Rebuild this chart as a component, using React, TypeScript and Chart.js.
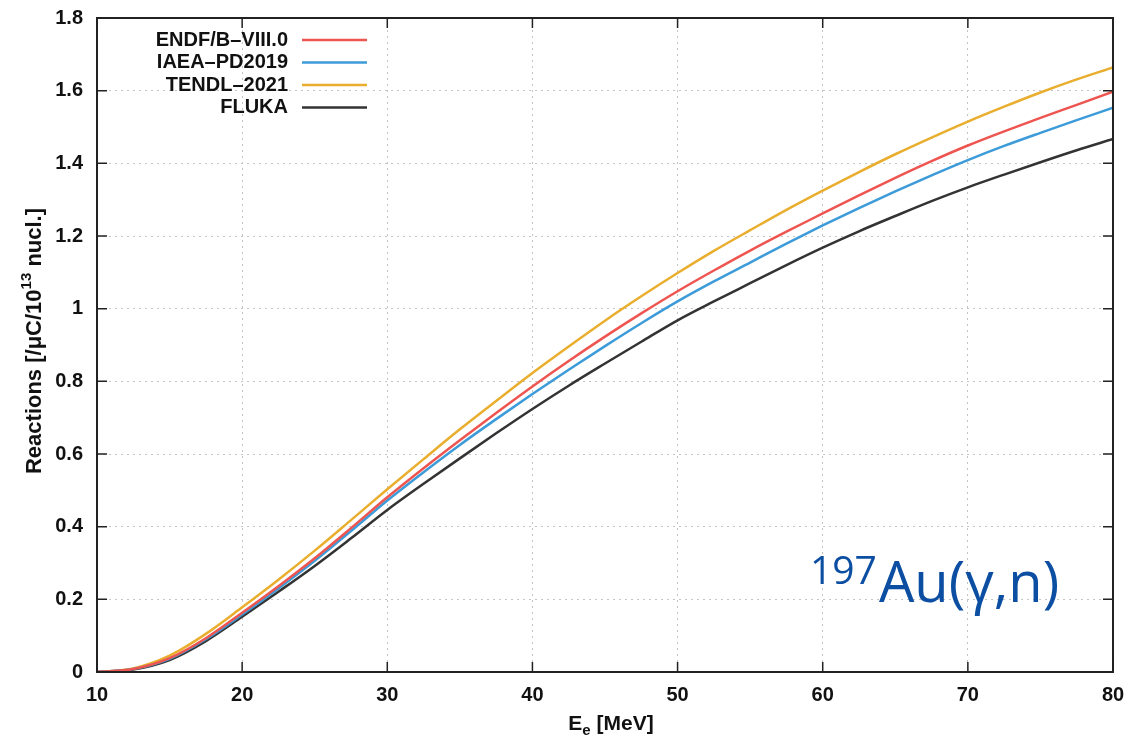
import React, { useEffect, useRef } from "react";
import { Chart, registerables } from "chart.js";

Chart.register(...registerables);

const energies = [10, 12.5, 15, 17.5, 20, 22.5, 25, 27.5, 30, 32.5, 35, 37.5, 40, 42.5, 45, 47.5, 50, 52.5, 55, 57.5, 60, 62.5, 65, 67.5, 70, 72.5, 75, 77.5, 80];
const endf = [0, 0.008, 0.038, 0.093, 0.163, 0.236, 0.313, 0.396, 0.481, 0.561, 0.638, 0.713, 0.786, 0.856, 0.923, 0.987, 1.048, 1.105, 1.160, 1.212, 1.262, 1.312, 1.360, 1.406, 1.449, 1.488, 1.525, 1.561, 1.597];
const iaea = [0, 0.008, 0.036, 0.090, 0.158, 0.230, 0.306, 0.388, 0.472, 0.550, 0.625, 0.696, 0.765, 0.832, 0.897, 0.960, 1.020, 1.075, 1.127, 1.179, 1.229, 1.277, 1.323, 1.367, 1.409, 1.448, 1.484, 1.519, 1.553];
const tendl = [0, 0.010, 0.045, 0.105, 0.178, 0.254, 0.334, 0.418, 0.503, 0.586, 0.668, 0.746, 0.823, 0.896, 0.967, 1.034, 1.098, 1.159, 1.216, 1.272, 1.325, 1.376, 1.425, 1.471, 1.515, 1.556, 1.595, 1.631, 1.664];
const fluka = [0, 0.007, 0.033, 0.085, 0.152, 0.221, 0.292, 0.368, 0.446, 0.518, 0.588, 0.657, 0.724, 0.788, 0.849, 0.909, 0.968, 1.020, 1.070, 1.120, 1.168, 1.213, 1.255, 1.296, 1.334, 1.369, 1.403, 1.436, 1.467];

const seriesLabels = ["ENDF/B-VIII.0", "IAEA-PD2019", "TENDL-2021", "FLUKA"];
const seriesColors = ["#EE5550", "#3C9BD8", "#E9AE2E", "#333333"];
const seriesValues = [endf, iaea, tendl, fluka];

const FONT = "'Liberation Sans', Arial, sans-serif";

const decorPlugin = {
  id: "decor",
  afterDatasetsDraw(chart: any) {
    const { ctx, chartArea: a, scales } = chart;
    const xs = scales.x;
    const ys = scales.y;
    ctx.save();
    // frame
    ctx.strokeStyle = "#222";
    ctx.lineWidth = 2;
    ctx.strokeRect(a.left, a.top, a.right - a.left, a.bottom - a.top);
    // inward ticks
    ctx.lineWidth = 1.5;
    const tl = 10;
    xs.ticks.forEach((t: any) => {
      const px = xs.getPixelForValue(t.value);
      ctx.beginPath();
      ctx.moveTo(px, a.bottom);
      ctx.lineTo(px, a.bottom - tl);
      ctx.moveTo(px, a.top);
      ctx.lineTo(px, a.top + tl);
      ctx.stroke();
    });
    ys.ticks.forEach((t: any) => {
      const py = ys.getPixelForValue(t.value);
      ctx.beginPath();
      ctx.moveTo(a.left, py);
      ctx.lineTo(a.left + tl, py);
      ctx.moveTo(a.right, py);
      ctx.lineTo(a.right - tl, py);
      ctx.stroke();
    });
    // legend
    ctx.font = `bold 20px ${FONT}`;
    ctx.textAlign = "right";
    ctx.textBaseline = "middle";
    const rows = [40, 62.5, 85, 107.5];
    chart.data.datasets.forEach((ds: any, i: number) => {
      ctx.fillStyle = "#111";
      ctx.fillText(ds.label.replace(/-/g, "\u2013"), 288, rows[i]);
      ctx.strokeStyle = ds.borderColor;
      ctx.lineWidth = 2.5;
      ctx.beginPath();
      ctx.moveTo(302, rows[i]);
      ctx.lineTo(367, rows[i]);
      ctx.stroke();
    });
    // x title
    ctx.fillStyle = "#111";
    ctx.textAlign = "left";
    ctx.textBaseline = "alphabetic";
    const xt1 = "E";
    const xt2 = "e";
    const xt3 = " [MeV]";
    ctx.font = `bold 21px ${FONT}`;
    const w1 = ctx.measureText(xt1).width;
    const w3 = ctx.measureText(xt3).width;
    ctx.font = `bold 15px ${FONT}`;
    const w2 = ctx.measureText(xt2).width;
    const tot = w1 + w2 + w3;
    const sx = (a.left + a.right) / 2 + 6 - tot / 2;
    const by = 730;
    ctx.font = `bold 21px ${FONT}`;
    ctx.fillText(xt1, sx, by);
    ctx.font = `bold 15px ${FONT}`;
    ctx.fillText(xt2, sx + w1, by + 5);
    ctx.font = `bold 21px ${FONT}`;
    ctx.fillText(xt3, sx + w1 + w2, by);
    // y title
    ctx.save();
    ctx.translate(41, 341);
    ctx.rotate(-Math.PI / 2);
    const y1 = "Reactions [/\u03BCC/10";
    const y2 = "13";
    const y3 = " nucl.]";
    ctx.font = `bold 22px ${FONT}`;
    const v1 = ctx.measureText(y1).width;
    const v3 = ctx.measureText(y3).width;
    ctx.font = `bold 15px ${FONT}`;
    const v2 = ctx.measureText(y2).width;
    const vt = v1 + v2 + v3;
    const vx = -vt / 2;
    ctx.font = `bold 22px ${FONT}`;
    ctx.fillText(y1, vx, 0);
    ctx.font = `bold 15px ${FONT}`;
    ctx.fillText(y2, vx + v1, -10);
    ctx.font = `bold 22px ${FONT}`;
    ctx.fillText(y3, vx + v1 + v2, 0);
    ctx.restore();
    // annotation
    ctx.fillStyle = "#0B4EA2";
    ctx.font = `39px 'Open Sans', sans-serif`;
    ctx.fillText("197", 810, 584);
    const sw = ctx.measureText("197").width;
    ctx.font = `56px 'Open Sans', sans-serif`;
    ctx.fillText("Au(\u03B3,n)", 810 + sw + 2, 602);
    ctx.restore();
  },
};

export default function App() {
  const ref = useRef<HTMLCanvasElement>(null);
  useEffect(() => {
    if (!ref.current) return;
    const chart = new Chart(ref.current, {
      type: "line",
      data: {
        datasets: seriesLabels.map((label, i) => ({
          label,
          data: energies.map((e, j) => ({ x: e, y: seriesValues[i][j] })),
          borderColor: seriesColors[i],
          backgroundColor: seriesColors[i],
          borderWidth: 2.5,
          pointRadius: 0,
          cubicInterpolationMode: "monotone" as const,
          fill: false,
        })),
      },
      options: {
        animation: false,
        responsive: false,
        layout: { padding: { top: 18, right: 17, left: 0, bottom: 0 } },
        plugins: { legend: { display: false }, tooltip: { enabled: false } },
        scales: {
          x: {
            type: "linear",
            min: 10,
            max: 80,
            afterFit: (s: any) => {
              s.height = 72;
              s.paddingLeft = 0;
              s.paddingRight = 0;
            },
            ticks: {
              stepSize: 10,
              padding: 11,
              color: "#111",
              font: { family: FONT, size: 20, weight: "bold" },
            },
            grid: { color: "#c4c4c4", lineWidth: 1, drawTicks: false },
            border: { display: false, dash: [2, 4] },
          },
          y: {
            type: "linear",
            min: 0,
            max: 1.8,
            afterFit: (s: any) => {
              s.width = 97;
              s.paddingTop = 0;
              s.paddingBottom = 0;
            },
            ticks: {
              stepSize: 0.2,
              padding: 14,
              color: "#111",
              font: { family: FONT, size: 20, weight: "bold" },
              callback: (v: any) => String(Number(Number(v).toFixed(1))),
            },
            grid: { color: "#c4c4c4", lineWidth: 1, drawTicks: false },
            border: { display: false, dash: [2, 4] },
          },
        },
      },
      plugins: [decorPlugin],
    });
    return () => chart.destroy();
  }, []);
  return (
    <div style={{ position: "fixed", left: 0, top: 0, width: 1130, height: 744, background: "#fff" }}>
      <canvas ref={ref} width={1130} height={744} />
    </div>
  );
}
